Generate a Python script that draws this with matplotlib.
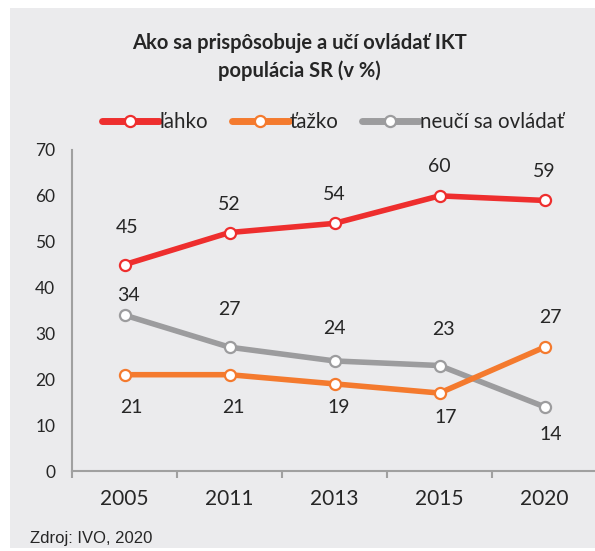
import matplotlib
matplotlib.use("Agg")
import matplotlib.pyplot as plt
from matplotlib.patches import Rectangle
from matplotlib.lines import Line2D

years = ["2005", "2011", "2013", "2015", "2020"]
lahko = [45, 52, 54, 60, 59]
tazko = [21, 21, 19, 17, 27]
neuci = [34, 27, 24, 23, 14]
series_names = ["ľahko", "ťažko", "neučí sa ovládať"]
title = "Ako sa prispôsobuje a učí ovládať IKT\npopulácia SR (v %)"
source = "Zdroj: IVO, 2020"

# label offsets in pixels (dx, dy; positive dy = downwards on screen)
off_lahko = [(3, -37), (0, -28), (0, -29), (0, -29), (0, -29)]
off_neuci = [(4, -20), (0, -38), (0, -32), (4, -36), (6, 28)]
off_tazko = [(7, 33), (4, 33), (4, 24), (6, 24), (6, -30)]

RED = "#ee2e2e"
ORANGE = "#f47a2e"
GRAY = "#9c9c9e"
BG = "#ebebed"
TXT = "#262626"

plt.rcParams['font.family'] = ['Lato', 'DejaVu Sans']

fig = plt.figure(figsize=(5.95, 5.51), dpi=100)
fig.patch.set_facecolor("white")
bg = Rectangle((10 / 595, 3 / 551), 1, 1 - 11 / 551, transform=fig.transFigure,
               facecolor=BG, edgecolor="none", zorder=-10)
fig.patches.append(bg)

ax = fig.add_axes([72 / 595, 1 - 471 / 551, (597 - 72) / 595, (471 - 150) / 551])
ax.set_facecolor("none")
ax.set_zorder(5)

x = list(range(len(years)))
for vals, col in [(neuci, GRAY), (tazko, ORANGE), (lahko, RED)]:
    ax.plot(x, vals, color=col, lw=4, marker="o", ms=8, mfc="white", mec=col, mew=1.6,
            solid_capstyle="round", zorder=3, clip_on=False)

ax.set_xlim(-0.5, len(years) - 0.5)
ax.set_ylim(0, 70)
ax.set_yticks(range(0, 71, 10))
ax.set_xticks([i - 0.5 for i in range(len(years) + 1)])
ax.set_xticklabels([])
ax.set_xticks(x, minor=True)
ax.set_xticklabels(years, minor=True, fontsize=15, color=TXT)
ax.tick_params(axis="x", which="major", length=5, width=1.5, color="#a0a0a0", direction="out")
ax.tick_params(axis="x", which="minor", length=0, pad=13)
ax.tick_params(axis="y", length=0, pad=12, labelsize=12.5, labelcolor=TXT)
for s in ["top", "right"]:
    ax.spines[s].set_visible(False)
for s in ["left", "bottom"]:
    ax.spines[s].set_color("#a0a0a0")
    ax.spines[s].set_linewidth(1.5)

fs = 14
PX = 0.72  # pixels -> points at 100 dpi
for vals, offs in [(lahko, off_lahko), (neuci, off_neuci), (tazko, off_tazko)]:
    for i, v in enumerate(vals):
        dx, dy = offs[i]
        ax.annotate(str(v), (i, v), xytext=(dx * PX, -dy * PX), textcoords="offset points",
                    ha="center", va="center", fontsize=fs, color=TXT)

fig.text(299 / 595, 1 - 57 / 551, title, ha="center", va="center", fontsize=14.5,
         fontweight="bold", color=TXT, linespacing=1.4)

handles = [Line2D([], [], color=c, lw=5, marker="o", ms=8, mfc="white", mec=c, mew=1.6,
                  solid_capstyle="round") for c in (RED, ORANGE, GRAY)]
fig.legend(handles, series_names, loc="center", bbox_to_anchor=(333 / 595, 1 - 122 / 551),
           ncol=3, frameon=False, fontsize=14.8, handlelength=2.75, handletextpad=0.05,
           columnspacing=1.15, labelcolor=TXT)

fig.text(30 / 595, 1 - 538 / 551, source, ha="left", va="center", fontsize=12,
         family=['Liberation Sans', 'DejaVu Sans'], color=TXT)

fig.savefig("out.png", dpi=100, facecolor=fig.get_facecolor())
